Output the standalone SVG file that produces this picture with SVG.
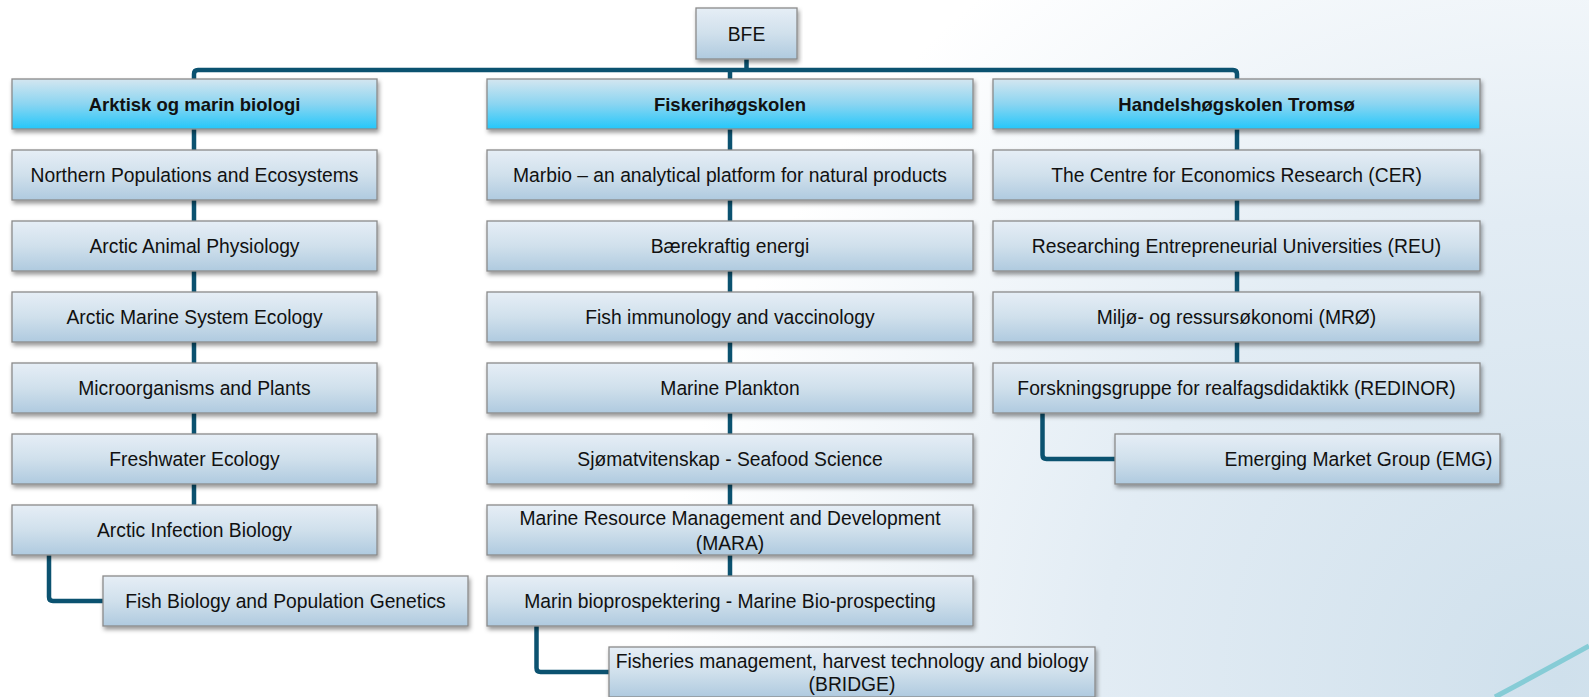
<svg xmlns="http://www.w3.org/2000/svg" width="1589" height="697" viewBox="0 0 1589 697">
<defs>
<radialGradient id="bg" gradientUnits="userSpaceOnUse" cx="1560" cy="680" r="1150">
<stop offset="0" stop-color="#cfe0ec"/>
<stop offset="0.4" stop-color="#e2ecf4"/>
<stop offset="0.78" stop-color="#ffffff"/>
</radialGradient>
<linearGradient id="gc" x1="0" y1="0" x2="0" y2="1">
<stop offset="0" stop-color="#e6eef6"/>
<stop offset="0.5" stop-color="#d0e0ec"/>
<stop offset="1" stop-color="#afcadf"/>
</linearGradient>
<linearGradient id="gh" x1="0" y1="0" x2="0" y2="1">
<stop offset="0" stop-color="#d4e6f0"/>
<stop offset="0.5" stop-color="#8bd5f1"/>
<stop offset="1" stop-color="#24c7fa"/>
</linearGradient>
<filter id="sh" x="-5%" y="-20%" width="110%" height="150%">
<feDropShadow dx="1.5" dy="3" stdDeviation="2" flood-color="#000" flood-opacity="0.4"/>
</filter>
</defs>
<style>
.box rect{fill:url(#gc);stroke:#8a8a8a;stroke-width:1.3;filter:url(#sh)}
.hdr rect{fill:url(#gh);stroke:#8a8a8a;stroke-width:1.3;filter:url(#sh)}
text{font-family:"Liberation Sans",Arial,sans-serif;font-size:19.3px;text-anchor:middle;fill:#111}
.hdr text{font-weight:bold;font-size:18.5px}
#connectors path{fill:none;stroke:#0b5270;stroke-width:4.5;stroke-linejoin:round}
</style>
<rect width="1589" height="697" fill="url(#bg)"/>
<path d="M1495,697 Q1540,673 1589,646" fill="none" stroke="#86ccd6" stroke-width="5"/>

<g id="connectors">
<path d="M746.5,59 V70"/>
<path d="M194,79 V74 Q194,70 198,70 H1233 Q1237,70 1237,74 V79"/>
<path d="M730,70 V79"/>
<path d="M194,129 V505"/>
<path d="M730,129 V576"/>
<path d="M1237,129 V363"/>
<path d="M49,555 V597 Q49,601 53,601 H103"/>
<path d="M536.5,626 V668 Q536.5,672 540.5,672 H609"/>
<path d="M1042.5,413 V455 Q1042.5,459 1046.5,459 H1115"/>
</g>

<g id="n-bfe" class="box"><rect x="696" y="8" width="101" height="51"/><text x="746.5" y="40.5">BFE</text></g>

<g id="n-amb" class="hdr"><rect x="12" y="79" width="365" height="50"/><text x="194.5" y="110.5">Arktisk og marin biologi</text></g>
<g id="n-fhs" class="hdr"><rect x="487" y="79" width="486" height="50"/><text x="730" y="110.5">Fiskerihøgskolen</text></g>
<g id="n-hht" class="hdr"><rect x="993" y="79" width="487" height="50"/><text x="1236.5" y="110.5">Handelshøgskolen Tromsø</text></g>

<g id="n-l1" class="box"><rect x="12" y="150" width="365" height="50"/><text x="194.5" y="182">Northern Populations and Ecosystems</text></g>
<g id="n-l2" class="box"><rect x="12" y="221" width="365" height="50"/><text x="194.5" y="253">Arctic Animal Physiology</text></g>
<g id="n-l3" class="box"><rect x="12" y="292" width="365" height="50"/><text x="194.5" y="324">Arctic Marine System Ecology</text></g>
<g id="n-l4" class="box"><rect x="12" y="363" width="365" height="50"/><text x="194.5" y="395">Microorganisms and Plants</text></g>
<g id="n-l5" class="box"><rect x="12" y="434" width="365" height="50"/><text x="194.5" y="466">Freshwater Ecology</text></g>
<g id="n-l6" class="box"><rect x="12" y="505" width="365" height="50"/><text x="194.5" y="537">Arctic Infection Biology</text></g>
<g id="n-l7" class="box"><rect x="103" y="576" width="365" height="50"/><text x="285.5" y="608">Fish Biology and Population Genetics</text></g>

<g id="n-m1" class="box"><rect x="487" y="150" width="486" height="50"/><text x="730" y="182">Marbio – an analytical platform for natural products</text></g>
<g id="n-m2" class="box"><rect x="487" y="221" width="486" height="50"/><text x="730" y="253">Bærekraftig energi</text></g>
<g id="n-m3" class="box"><rect x="487" y="292" width="486" height="50"/><text x="730" y="324">Fish immunology and vaccinology</text></g>
<g id="n-m4" class="box"><rect x="487" y="363" width="486" height="50"/><text x="730" y="395">Marine Plankton</text></g>
<g id="n-m5" class="box"><rect x="487" y="434" width="486" height="50"/><text x="730" y="466">Sjømatvitenskap - Seafood Science</text></g>
<g id="n-m6" class="box"><rect x="487" y="505" width="486" height="50"/><text x="730" y="525">Marine Resource Management and Development</text><text x="730" y="550">(MARA)</text></g>
<g id="n-m7" class="box"><rect x="487" y="576" width="486" height="50"/><text x="730" y="608">Marin bioprospektering - Marine Bio-prospecting</text></g>
<g id="n-m8" class="box"><rect x="609" y="647" width="486" height="50"/><text x="852" y="668">Fisheries management, harvest technology and biology</text><text x="852" y="691">(BRIDGE)</text></g>

<g id="n-r1" class="box"><rect x="993" y="150" width="487" height="50"/><text x="1236.5" y="182">The Centre for Economics Research (CER)</text></g>
<g id="n-r2" class="box"><rect x="993" y="221" width="487" height="50"/><text x="1236.5" y="253">Researching Entrepreneurial Universities (REU)</text></g>
<g id="n-r3" class="box"><rect x="993" y="292" width="487" height="50"/><text x="1236.5" y="324">Miljø- og ressursøkonomi (MRØ)</text></g>
<g id="n-r4" class="box"><rect x="993" y="363" width="487" height="50"/><text x="1236.5" y="395">Forskningsgruppe for realfagsdidaktikk (REDINOR)</text></g>
<g id="n-r5" class="box"><rect x="1115" y="434" width="385" height="50"/><text x="1358.5" y="466">Emerging Market Group (EMG)</text></g>
</svg>
